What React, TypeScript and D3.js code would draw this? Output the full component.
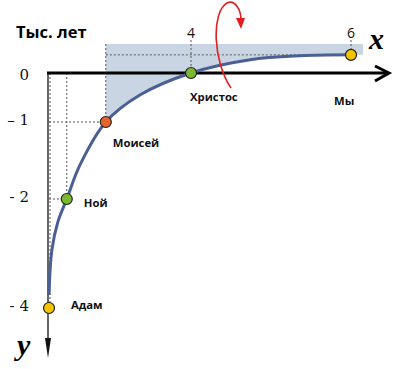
import React from "react";
import * as d3 from "d3";

// Points on the curve (thousand years)
const names = ["Адам", "Ной", "Моисей", "Христос", "Мы"];
const xs = [0, 0.5, 1.6, 4, 6];
const ys = [-4, -2, -1, 0, 0.37];
const colors = ["#f5c400", "#7cb82f", "#e8632b", "#7cb82f", "#f5c400"];

// the curve itself
const curveX = [0, 0.08, 0.25, 0.5, 0.87, 1.6, 2.56, 4, 4.74, 5.36, 6];
const curveY = [-3.76, -2.94, -2.42, -2, -1.56, -1, -0.45, 0, 0.27, 0.35, 0.37];

const yTicks = [0, -1, -2, -4];
const yTickLabels = ["0", "– 1", "- 2", "- 4"];
const xTicks = [4, 6];

const W = 402;
const H = 369;

export default function App() {
  const x = d3.scaleLinear().domain([0, 4, 6]).range([49, 191, 351]);
  const y = d3.scaleLinear().domain([0, -1, -2, -4]).range([73, 122, 199, 308]);

  const pts: [number, number][] = curveX.map((d, i) => [x(d), y(curveY[i])]);
  const line = d3.line().curve(d3.curveCatmullRom.alpha(0.5));

  // shaded region: from Moses to beyond "Мы", between top edge and curve
  const top = 44;
  const moses = xs[2];
  const shadePts = pts.filter((p) => p[0] >= x(moses) - 0.1);
  const shadeRight = x(6) + 12;
  const shade =
    "M" + x(moses) + "," + top +
    "L" + shadeRight + "," + top +
    "L" + shadeRight + "," + y(0.37) +
    line(shadePts.slice().reverse())!.replace(/^M/, "L") +
    "Z";

  const labelFont = "'Open Sans', sans-serif";
  const labelPos = [
    { dx: 22, dy: -3 },
    { dx: 17, dy: 4 },
    { dx: 7, dy: 21 },
    { dx: -1, dy: 24 },
    { dx: -17, dy: 46 },
  ];

  // rotation arrow near x ≈ 4.35
  const ax = x(4.35);

  return (
    <svg width={W} height={H} style={{ position: "absolute", left: 0, top: 0, background: "#fff" }}>
      <path d={shade} fill="#c9d5e3" />

      {/* dotted guides */}
      <g stroke="#555" strokeWidth={1} strokeDasharray="2,2" fill="none">
        <line x1={x(0.5)} x2={x(0.5)} y1={y(0)} y2={y(-2)} />
        <line x1={x(0) + 1} x2={x(0) + 1} y1={y(0)} y2={y(-4)} />
        <line x1={x(0)} x2={x(0.5)} y1={y(-2)} y2={y(-2)} />
        <line x1={x(0)} x2={x(1.6)} y1={y(-1)} y2={y(-1)} />
        <line x1={x(1.6)} x2={x(1.6)} y1={top} y2={y(-1)} />
        <line x1={x(1.6)} x2={x(6)} y1={y(0.37)} y2={y(0.37)} />
        {xTicks.map((t) => (
          <line key={t} x1={x(t)} x2={x(t)} y1={40} y2={t === 6 ? y(0.37) : y(0)} />
        ))}
      </g>

      {/* y axis */}
      <line x1={x(0) - 1} x2={x(0) - 1} y1={y(0)} y2={345} stroke="#000" strokeWidth={1.2} />
      <path d={`M${x(0) - 4},338 L${x(0) - 1},358 L${x(0) + 2},338 Z`} fill="#111" />

      {/* x axis */}
      <line x1={x(0) - 2} x2={388} y1={y(0)} y2={y(0)} stroke="#000" strokeWidth={3} />
      <path d={`M375,66 L389,${y(0)} L375,81`} stroke="#000" strokeWidth={3} fill="none" />

      {/* curve */}
      <path d={line(pts)!} fill="none" stroke="#4b5f97" strokeWidth={3} />

      {/* red rotation arrow */}
      <path
        d={`M${ax + 12},88 C${ax - 6},62 ${ax - 8},12 ${ax + 8},3 C${ax + 16},-1 ${ax + 22},10 ${ax + 22},20`}
        fill="none"
        stroke="#e02020"
        strokeWidth={1.6}
      />
      <path d={`M${ax + 17},18 L${ax + 22},29 L${ax + 26},18 Z`} fill="#e02020" />

      {/* points */}
      {xs.map((d, i) => (
        <circle key={i} cx={x(d)} cy={y(ys[i])} r={5.5} fill={colors[i]} stroke="#222" strokeWidth={1.2} />
      ))}

      {/* point labels */}
      {names.map((n, i) => (
        <text
          key={n}
          x={x(xs[i]) + labelPos[i].dx}
          y={y(ys[i]) + labelPos[i].dy}
          dy="0.35em"
          fontFamily={labelFont}
          fontWeight="bold"
          fontSize={11.3}
          fill="#111"
        >
          {n}
        </text>
      ))}

      {/* y tick labels */}
      {yTicks.map((t, i) => (
        <text
          key={t}
          x={29}
          y={y(t) + (t === 0 ? 2 : -2)}
          dy="0.35em"
          textAnchor="end"
          fontFamily="'DejaVu Serif', serif"
          fontSize={15}
          fill="#111"
        >
          {yTickLabels[i]}
        </text>
      ))}

      {/* x tick labels */}
      {xTicks.map((t) => (
        <text key={t} x={x(t)} y={38} textAnchor="middle" fontFamily={labelFont} fontSize={14} fill="#111">
          {t}
        </text>
      ))}

      <text x={16} y={38} fontFamily={labelFont} fontWeight="bold" fontSize={16.5} fill="#000">
        Тыс. лет
      </text>
      <text x={369} y={49} fontFamily="'Liberation Serif', serif" fontStyle="italic" fontWeight="bold" fontSize={30} fill="#000">
        x
      </text>
      <text x={17} y={355} fontFamily="'Liberation Serif', serif" fontStyle="italic" fontWeight="bold" fontSize={30} fill="#000">
        y
      </text>
    </svg>
  );
}
